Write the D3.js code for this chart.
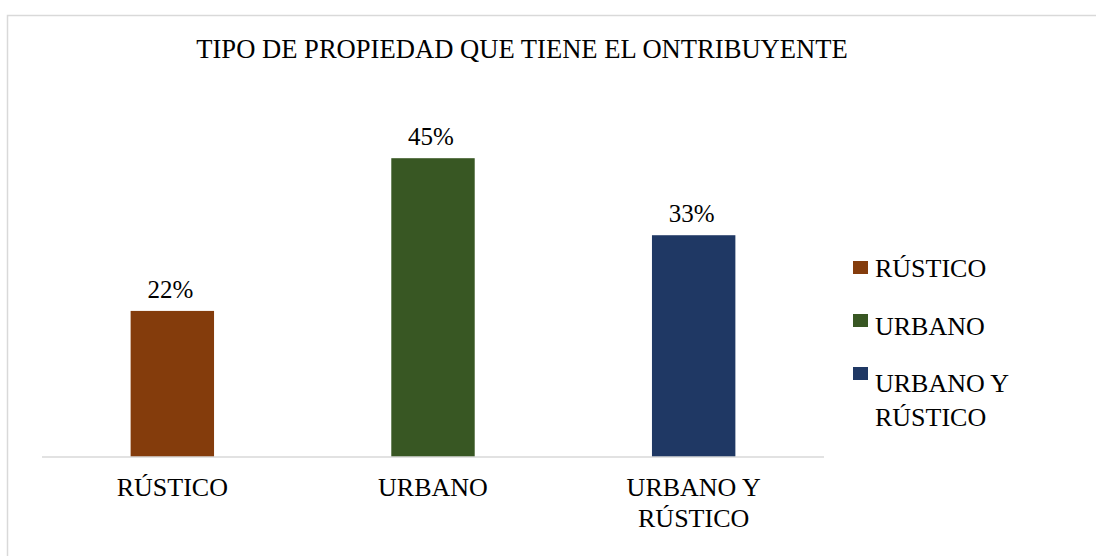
<!DOCTYPE html>
<html>
<head>
	<meta charset="utf-8">
	<title>index</title>
	<script src="https://d3js.org/d3.v7.min.js" charset="utf-8"></script>
	<style>
		body { margin:0; background:#fff; }
		svg { display:block; }
	</style>
</head>
<body>
<script>
	var categories = ["RÚSTICO", "URBANO", "URBANO Y RÚSTICO"];
	var catLines = [["RÚSTICO"], ["URBANO"], ["URBANO Y", "RÚSTICO"]];
	var values = [0.22, 0.45, 0.334];
	var valueLabels = ["22%", "45%", "33%"];
	var colors = ["#843C0C", "#385723", "#1F3864"];
	var title = "TIPO DE PROPIEDAD QUE TIENE EL ONTRIBUYENTE";

	var W = 1096, H = 556;
	var FONT = "'Liberation Serif', 'Times New Roman', Times, 'DejaVu Serif', serif";
	var svg = d3.select("body").append("svg").attr("width", W).attr("height", H)
		.style("font-family", FONT);

	// chart frame
	svg.append("rect")
		.attr("x", 7.5).attr("y", 15.5)
		.attr("width", W + 10).attr("height", H + 10)
		.attr("fill", "none").attr("stroke", "#d9d9d9").attr("stroke-width", 1.5);

	svg.append("text")
		.attr("x", 522).attr("y", 58)
		.attr("text-anchor", "middle").attr("font-size", 26.6)
		.style("font-family", FONT)
		.text(title);

	var x = d3.scaleBand().domain(categories).range([42, 824])
		.paddingInner(0.68).paddingOuter(0.34);
	var y = d3.scaleLinear().domain([0, 0.5]).range([457, 125]);

	svg.selectAll("rect.bar").data(values).enter().append("rect")
		.attr("class", "bar")
		.attr("x", function(d, i) { return x(categories[i]); })
		.attr("y", function(d) { return y(d); })
		.attr("width", x.bandwidth())
		.attr("height", function(d) { return y(0) - y(d); })
		.attr("fill", function(d, i) { return colors[i]; });

	svg.selectAll("text.val").data(values).enter().append("text")
		.attr("class", "val")
		.attr("x", function(d, i) { return x(categories[i]) + x.bandwidth() / 2 - 2; })
		.attr("y", function(d) { return y(d) - 13; })
		.attr("text-anchor", "middle").attr("font-size", 25)
		.style("font-family", FONT)
		.text(function(d, i) { return valueLabels[i]; });

	// axis line
	svg.append("line")
		.attr("x1", 42).attr("x2", 824)
		.attr("y1", y(0)).attr("y2", y(0))
		.attr("stroke", "#d9d9d9").attr("stroke-width", 1.5);

	catLines.forEach(function(lines, i) {
		var t = svg.append("text")
			.attr("text-anchor", "middle").attr("font-size", 26)
			.style("font-family", FONT)
			.attr("x", x(categories[i]) + x.bandwidth() / 2)
			.attr("y", 496);
		lines.forEach(function(l, j) {
			t.append("tspan")
				.attr("x", x(categories[i]) + x.bandwidth() / 2)
				.attr("dy", j == 0 ? 0 : 31)
				.text(l);
		});
	});

	// legend
	var legY = [261, 314, 367];
	catLines.forEach(function(lines, i) {
		svg.append("rect")
			.attr("x", 853).attr("y", legY[i])
			.attr("width", 15).attr("height", 13)
			.attr("fill", colors[i]);
		var t = svg.append("text").attr("font-size", 26)
			.style("font-family", FONT)
			.attr("x", 875).attr("y", legY[i] + 16 + (i == 2 ? 9 : (i == 1 ? 5 : 0)));
		lines.forEach(function(l, j) {
			t.append("tspan").attr("x", 875)
				.attr("dy", j == 0 ? 0 : 34)
				.text(l);
		});
	});
</script>
</body>
</html>
